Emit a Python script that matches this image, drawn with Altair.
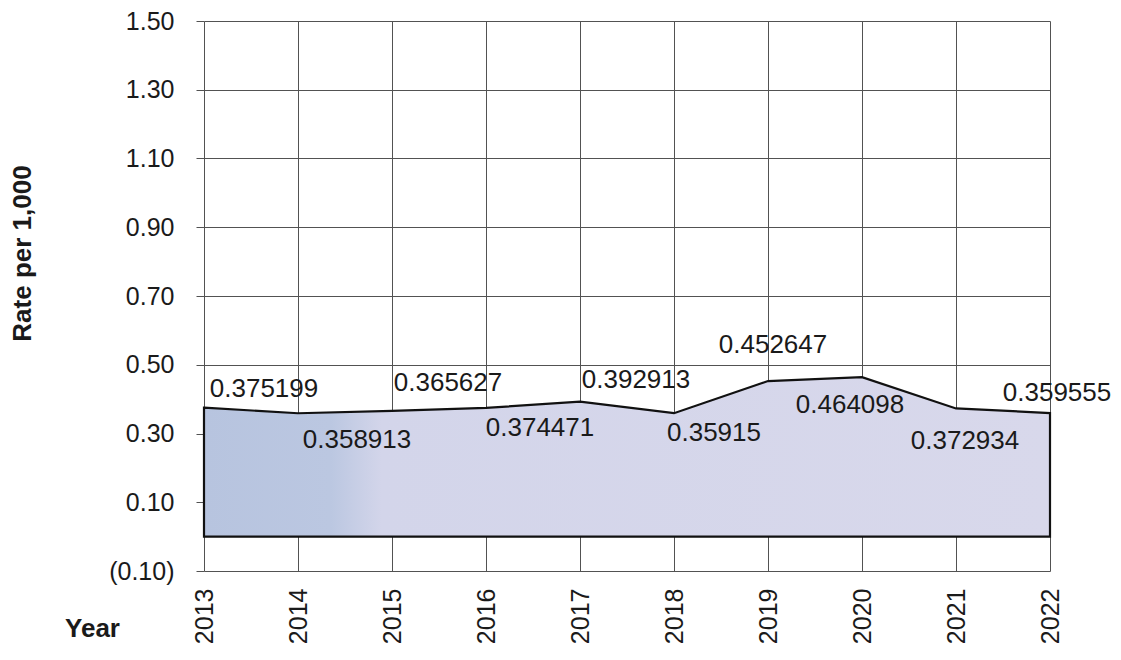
import altair as alt
import pandas as pd

# Annual rate per 1,000, 2013-2022
years = [2013, 2014, 2015, 2016, 2017, 2018, 2019, 2020, 2021, 2022]
rates = [0.375199, 0.358913, 0.365627, 0.374471, 0.392913,
         0.35915, 0.452647, 0.464098, 0.372934, 0.359555]

# Pixel nudges for each value label (relative to its point)
label_dx = [60, 59, 56, 54, 56, 40, 5, -12, 9, 7]
label_dy = [-19, 27, -28, 20, -22, 20, -36, 28, 33, -20]

y_ticks = [-0.10, 0.10, 0.30, 0.50, 0.70, 0.90, 1.10, 1.30, 1.50]

W, H = 846, 550
Y_MIN, Y_MAX = -0.10, 1.50
px_per_year = W / (years[-1] - years[0])
px_per_unit = H / (Y_MAX - Y_MIN)

df = pd.DataFrame({"Year": years, "Rate": rates, "dx": label_dx, "dy": label_dy})

FONT = "Liberation Sans"
GRID = "#525252"

x_enc = alt.X(
    "Year:Q",
    scale=alt.Scale(domain=[years[0], years[-1]], nice=False, zero=False),
    axis=alt.Axis(
        values=years, format="d", labelAngle=-90, labelFontSize=25,
        labelFont=FONT, labelColor="#1a1a1a", labelPadding=17,
        ticks=False, domain=False, grid=True, gridColor=GRID, gridWidth=1,
        title="Year", titleFont=FONT, titleFontSize=26, titleFontWeight="bold",
        titleColor="#1a1a1a", titleX=-112, titleY=57, titleAlign="center",
        titleBaseline="middle", titleAngle=0,
    ),
)

y_enc = alt.Y(
    "Rate:Q",
    scale=alt.Scale(domain=[Y_MIN, Y_MAX], nice=False, zero=False),
    axis=alt.Axis(
        values=y_ticks, format="(.2f", labelFontSize=25, labelFont=FONT,
        labelColor="#1a1a1a", labelPadding=22, tickSize=8, tickColor=GRID,
        domain=False, grid=True, gridColor=GRID, gridWidth=1,
        title="Rate per 1,000", titleFont=FONT, titleFontSize=26,
        titleFontWeight="bold", titleColor="#1a1a1a", titleX=-182, titleY=232,
        titleAngle=-90, titleAlign="center", titleBaseline="middle",
    ),
)

fill = alt.Gradient(
    gradient="linear",
    x1=0, x2=1, y1=0, y2=0,
    stops=[
        alt.GradientStop(color="#b7c4df", offset=0),
        alt.GradientStop(color="#bbc7e1", offset=0.15),
        alt.GradientStop(color="#d3d5ea", offset=0.21),
        alt.GradientStop(color="#d8d8eb", offset=1),
    ],
)

area = alt.Chart(df).mark_area(
    fill=fill, stroke="#111111", strokeWidth=2.2, strokeJoin="miter"
).encode(x=x_enc, y=y_enc, y2=alt.datum(0))

labels = alt.Chart(df).transform_calculate(
    lx=f"datum.Year + datum.dx / {px_per_year}",
    ly=f"datum.Rate - datum.dy / {px_per_unit}",
    txt="toString(datum.Rate)",
).mark_text(
    font=FONT, fontSize=26, color="#1a1a1a", align="center", baseline="middle"
).encode(
    x=alt.X("lx:Q"),
    y=alt.Y("ly:Q"),
    text="txt:N",
)

chart = alt.layer(area, labels).properties(
    width=W,
    height=H,
    autosize=alt.AutoSizeParams(type="none"),
    padding={"left": 204, "top": 21, "right": 71, "bottom": 89},
    background="white",
).configure_view(stroke=None)

chart.save("out.html", embed_options={"renderer": "svg", "actions": False})
